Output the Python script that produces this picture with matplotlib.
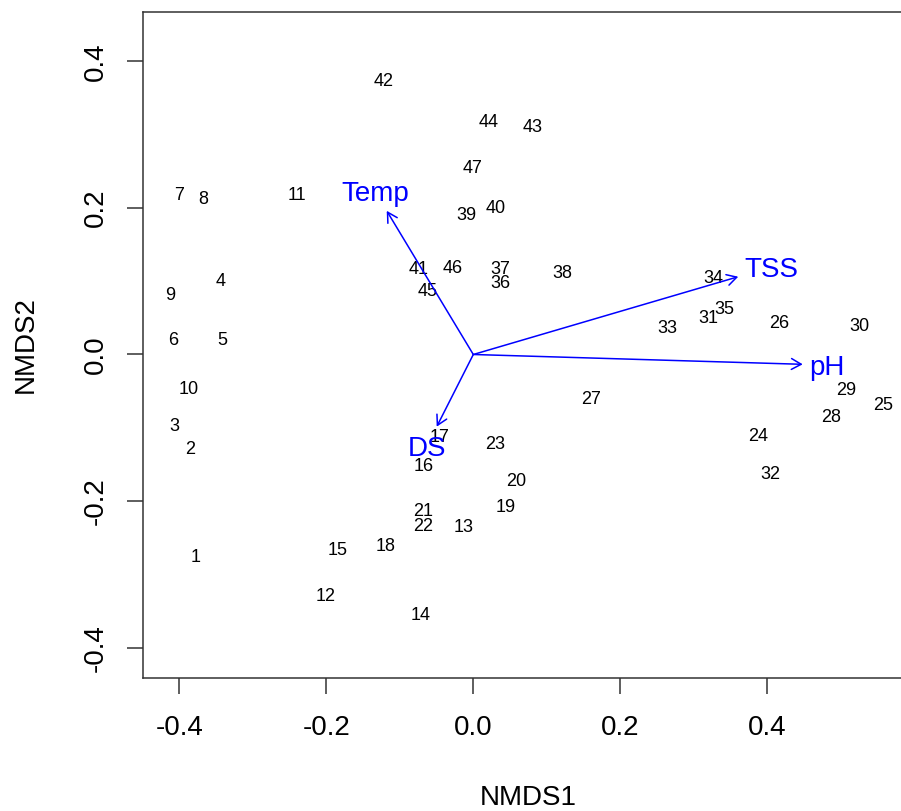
import numpy as np
import matplotlib
matplotlib.use("Agg")
import matplotlib.pyplot as plt

plt.rcParams['font.family'] = ['Liberation Sans', 'DejaVu Sans']

# site scores (NMDS1, NMDS2), labels 1..47
site_labels = [str(i) for i in range(1, 48)]
nmds1 = [-0.3777, -0.3855, -0.4072, -0.3437, -0.3415, -0.4080, -0.4004, -0.3680,
         -0.4127, -0.3870, -0.2403, -0.2004, -0.0127, -0.0712, -0.1845, -0.0680,
         -0.0463, -0.1188, 0.0445, 0.0590, -0.0680, -0.0689, 0.0295, 0.3869,
         0.5578, 0.4163, 0.1597, 0.4867, 0.5080, 0.5248, 0.3197, 0.4046,
         0.2640, 0.3265, 0.3415, 0.0373, 0.0373, 0.1216, -0.0090, 0.0305,
         -0.0748, -0.1215, 0.0808, 0.0204, -0.0620, -0.0280, -0.0014]
nmds2 = [-0.2749, -0.1271, -0.0962, 0.1026, 0.0221, 0.0221, 0.2200, 0.2145,
         0.0825, -0.0447, 0.2190, -0.3281, -0.2336, -0.3540, -0.2644, -0.1507,
         -0.1112, -0.2599, -0.2067, -0.1703, -0.2121, -0.2326, -0.1198, -0.1098,
         -0.0666, 0.0447, -0.0589, -0.0835, -0.0471, 0.0402, 0.0516, -0.1607,
         0.0379, 0.1061, 0.0644, 0.0993, 0.1184, 0.1130, 0.1926, 0.2016,
         0.1184, 0.3745, 0.3130, 0.3190, 0.0880, 0.1198, 0.2560]

# environmental vectors (arrow tips)
env_names = ['Temp', 'TSS', 'pH', 'DS']
env_x = [-0.1178, 0.3605, 0.4482, -0.0498]
env_y = [0.1960, 0.1061, -0.0134, -0.0985]

W, H = 901, 811
fig = plt.figure(figsize=(W / 100, H / 100), dpi=100)
ax = fig.add_axes([143 / W, (H - 678) / H, (914.3 - 143) / W, 666 / H])
ax.set_xlim(-0.4494, 0.600)
ax.set_ylim(-0.4413, 0.4672)

for s in ax.spines.values():
    s.set_linewidth(1.1)
    s.set_color('#333333')

ax.set_xticks([-0.4, -0.2, 0.0, 0.2, 0.4])
ax.set_yticks([-0.4, -0.2, 0.0, 0.2, 0.4])
ax.set_xticklabels(['-0.4', '-0.2', '0.0', '0.2', '0.4'])
ax.set_yticklabels(['-0.4', '-0.2', '0.0', '0.2', '0.4'])
ax.tick_params(axis='both', length=11.5, width=1.1, color='#333333', labelsize=20)
ax.tick_params(axis='x', pad=15)
ax.tick_params(axis='y', pad=13, labelrotation=90)
for t in ax.get_yticklabels():
    t.set_va('center')

ax.set_xlabel('NMDS1', fontsize=20)
ax.set_ylabel('NMDS2', fontsize=20)
ax.xaxis.set_label_coords(0.5, -0.180)
ax.xaxis.label.set_va('center')
ax.yaxis.set_label_coords((26 - 143) / (914.3 - 143), 0.5)
ax.yaxis.label.set_va('center')
ax.yaxis.label.set_ha('center')

# site labels, centred on cap height like R's text()
fs_site = 13
h_site = fs_site * 100 / 72 * 0.716
for lab, x, y in zip(site_labels, nmds1, nmds2):
    ax.annotate(lab, (x, y), xytext=(0, -h_site / 2), textcoords='offset pixels',
                ha='center', va='baseline', fontsize=fs_site, color='black')

# arrows
blue = '#0000FF'
for x, y in zip(env_x, env_y):
    ax.annotate('', xy=(x, y), xytext=(0, 0),
                arrowprops=dict(arrowstyle='->,head_length=0.5,head_width=0.28',
                                color=blue, lw=1.1, shrinkA=0, shrinkB=0,
                                mutation_scale=14))

# arrow labels placed like vegan's ordiArrowTextXY
fig.canvas.draw()
r = fig.canvas.get_renderer()
fs_env = 20
h_cap = fs_env * 100 / 72 * 0.716
h_env = fs_env * 100 / 72 * 0.93
for name, x, y in zip(env_names, env_x, env_y):
    tmp = ax.text(0, 0, name, fontsize=fs_env)
    w = tmp.get_window_extent(r).width
    tmp.remove()
    p0 = ax.transData.transform((0, 0))
    p1 = ax.transData.transform((x, y))
    dx, dy = p1 - p0
    offx = np.sign(dx) * (w / 2 + h_env / 4)
    offy = 0.75 * h_env * np.sign(dy)
    b = dy / dx
    move = offy / b
    if np.isfinite(move) and abs(move) <= abs(offx):
        offx = move
    else:
        offy = b * offx
    ax.annotate(name, (x, y), xytext=(offx, offy - h_cap / 2), textcoords='offset pixels',
                ha='center', va='baseline', fontsize=fs_env, color=blue)

fig.savefig('out.png', dpi=100)
